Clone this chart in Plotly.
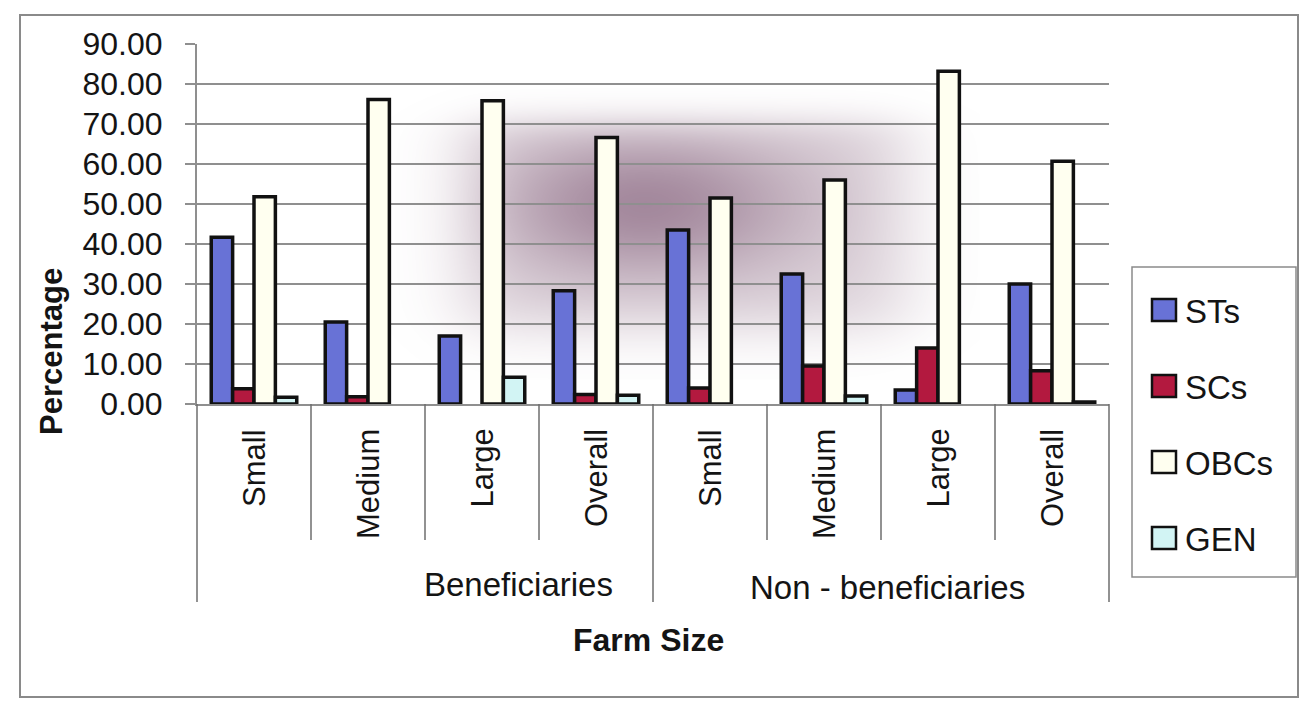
import base64
import struct
import zlib

import numpy as np
import plotly.graph_objects as go

# ---- data -------------------------------------------------------------
groups = ["Beneficiaries"] * 4 + ["Non - beneficiaries"] * 4
farm_sizes = ["Small", "Medium", "Large", "Overall"] * 2

sts = [41.7, 20.5, 17.0, 28.3, 43.5, 32.5, 3.5, 30.0]
scs = [3.8, 1.8, 0.0, 2.4, 4.0, 9.5, 14.0, 8.3]
obcs = [51.8, 76.1, 75.8, 66.6, 51.5, 56.0, 83.2, 60.7]
gen = [1.7, 0.0, 6.7, 2.2, 0.0, 2.0, 0.0, 0.5]

series_names = ["STs", "SCs", "OBCs", "GEN"]
series_values = [sts, scs, obcs, gen]
series_colors = ["#6872d6", "#b3193f", "#fffff0", "#d2f4f4"]

y_ticks = [0, 10, 20, 30, 40, 50, 60, 70, 80, 90]

# ---- page geometry (pixels) ---------------------------------------------
W, H = 1301, 706
PL, PR, PT, PB = 197, 1109, 44, 404          # plot area edges
PW, PH = PR - PL, PB - PT
FONT = "Liberation Sans, Arial, sans-serif"
INK = "#141414"
GRID = "#8f8f8f"


def px2x(px):
    return (px - PL) / PW


def py2y(py):
    return (PB - py) / PH


def png_data_uri(rgba):
    h, w, _ = rgba.shape
    raw = b"".join(b"\x00" + rgba[r].tobytes() for r in range(h))

    def chunk(tag, data):
        body = tag + data
        return struct.pack(">I", len(data)) + body + struct.pack(">I", zlib.crc32(body) & 0xFFFFFFFF)

    png = (b"\x89PNG\r\n\x1a\n"
           + chunk(b"IHDR", struct.pack(">IIBBBBB", w, h, 8, 6, 0, 0, 0))
           + chunk(b"IDAT", zlib.compress(raw, 9))
           + chunk(b"IEND", b""))
    return "data:image/png;base64," + base64.b64encode(png).decode()


# soft mauve shading behind the middle of the plot
hx0, hx1, hy0, hy1 = 380, 980, 80, 380
X, Y = np.meshgrid(np.arange(hx0, hx1) + 0.5, np.arange(hy0, hy1) + 0.5)


def sig(t):
    return 1.0 / (1.0 + np.exp(-t))


plateau = sig((X - 465) / 22) * sig((905 - X) / 24) * sig((Y - 120) / 10) * sig((330 - Y) / 16)
core = np.exp(-((X - 645) / 160) ** 2 - ((Y - 205) / 75) ** 2)
alpha = np.clip(0.26 * plateau + 0.42 * core * plateau, 0, 0.75)
haze = np.zeros(X.shape + (4,), dtype=np.uint8)
haze[..., 0] = 120
haze[..., 1] = 80
haze[..., 2] = 110
haze[..., 3] = (alpha * 255).astype(np.uint8)

fig = go.Figure()
for name, vals, col in zip(series_names, series_values, series_colors):
    fig.add_trace(go.Bar(
        name=name,
        x=[groups, farm_sizes],
        # empty cells stay empty: no outline is drawn for a zero share
        y=[v if v else None for v in vals],
        marker=dict(color=col, line=dict(color="#111111", width=3.5)),
        showlegend=False,
    ))

shapes = []
annotations = []

# category table below the axis
for i in range(len(farm_sizes) + 1):
    outer = i % 4 == 0
    shapes.append(dict(type="line", xref="paper", yref="paper",
                       x0=i / len(farm_sizes), x1=i / len(farm_sizes),
                       y0=0, y1=py2y(602 if outer else 540),
                       line=dict(color="#6e6e6e", width=1.5)))

for i, lab in enumerate(farm_sizes):
    annotations.append(dict(text=lab, xref="paper", yref="paper",
                            x=(i + 0.5) / len(farm_sizes), y=py2y(427),
                            xanchor="center", yanchor="top", textangle=-90,
                            showarrow=False, font=dict(family=FONT, size=31, color=INK)))

annotations.append(dict(text="Beneficiaries", xref="paper", yref="paper",
                        x=px2x(518), y=py2y(584), xanchor="center", yanchor="middle",
                        showarrow=False, font=dict(family=FONT, size=33, color=INK)))
annotations.append(dict(text="Non - beneficiaries", xref="paper", yref="paper",
                        x=px2x(887), y=py2y(587), xanchor="center", yanchor="middle",
                        showarrow=False, font=dict(family=FONT, size=33, color=INK)))

# axis titles
annotations.append(dict(text="<b>Farm Size</b>", xref="paper", yref="paper",
                        x=px2x(648), y=py2y(640), xanchor="center", yanchor="middle",
                        showarrow=False, font=dict(family=FONT, size=32, color=INK)))
annotations.append(dict(text="<b>Percentage</b>", xref="paper", yref="paper",
                        x=px2x(51), y=py2y(352), xanchor="center", yanchor="middle",
                        textangle=-90, showarrow=False,
                        font=dict(family=FONT, size=31, color=INK)))

# legend box
shapes.append(dict(type="rect", xref="paper", yref="paper",
                   x0=px2x(1132), x1=px2x(1296), y0=py2y(577), y1=py2y(267),
                   line=dict(color="#8a8a8a", width=1.5), fillcolor="white"))
for k, (name, col) in enumerate(zip(series_names, series_colors)):
    cy = 310 + 76 * k
    shapes.append(dict(type="rect", xref="paper", yref="paper",
                       x0=px2x(1152), x1=px2x(1176), y0=py2y(cy + 11), y1=py2y(cy - 11),
                       line=dict(color="#111111", width=2.5), fillcolor=col))
    annotations.append(dict(text=name, xref="paper", yref="paper",
                            x=px2x(1183), y=py2y(cy + 1), xanchor="left", yanchor="middle",
                            showarrow=False, font=dict(family=FONT, size=33, color=INK)))

# chart frame
shapes.append(dict(type="rect", xref="paper", yref="paper",
                   x0=px2x(20), x1=px2x(1298), y0=py2y(697), y1=py2y(15),
                   line=dict(color="#8a8a8a", width=2), layer="below"))

fig.update_layout(
    width=W, height=H,
    margin=dict(l=PL, r=W - PR, t=PT, b=H - PB, pad=0),
    paper_bgcolor="white",
    plot_bgcolor="rgba(0,0,0,0)",
    barmode="group",
    bargap=0.25,
    bargroupgap=0,
    showlegend=False,
    shapes=shapes,
    annotations=annotations,
    images=[dict(source=png_data_uri(haze), xref="paper", yref="paper",
                 x=px2x(hx0), y=py2y(hy0), sizex=(hx1 - hx0) / PW, sizey=(hy1 - hy0) / PH,
                 xanchor="left", yanchor="top", sizing="stretch", layer="below")],
    xaxis=dict(showticklabels=False, showgrid=False, ticks="", showline=True,
               linecolor=GRID, linewidth=2, showdividers=False, zeroline=False),
    yaxis=dict(range=[0, 90], tickvals=y_ticks, tickformat=".2f",
               showgrid=True, gridcolor=GRID, gridwidth=2,
               showline=True, linecolor=GRID, linewidth=2,
               ticks="outside", ticklen=10, tickcolor=GRID, tickwidth=2,
               ticklabelstandoff=16, zeroline=False,
               tickfont=dict(family=FONT, size=32, color=INK)),
)

fig.write_html("out.html")
